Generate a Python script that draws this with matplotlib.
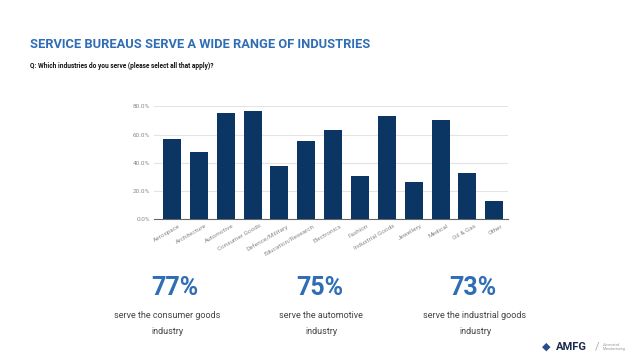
import matplotlib.pyplot as plt

industries = ["Aerospace", "Architecture", "Automotive", "Consumer Goods",
              "Defence/Military", "Education/Research", "Electronics", "Fashion",
              "Industrial Goods", "Jewellery", "Medical", "Oil & Gas", "Other"]
share = [57, 48, 75, 77, 38, 55.5, 63, 30.5, 73, 26.6, 70.5, 32.6, 13.2]

stats = ["77%", "75%", "73%"]
stat_text = ["serve the consumer goods\nindustry",
             "serve the automotive\nindustry",
             "serve the industrial goods\nindustry"]

blue = "#2f6db5"
navy = "#0b3563"

plt.rcParams['font.family'] = ['Roboto', 'DejaVu Sans']

fig = plt.figure(figsize=(6.38, 3.59), dpi=100)
W, H = 638, 359

fig.text(30 / W, 1 - 44 / H, "SERVICE BUREAUS SERVE A WIDE RANGE OF INDUSTRIES",
         color=blue, fontsize=9.3, fontweight='bold', va='center', ha='left')
fig.text(30 / W, 1 - 66 / H, "Q: Which industries do you serve (please select all that apply)?",
         color='#111111', fontsize=4.7, fontweight='bold', va='center', ha='left')

ax = fig.add_axes([154 / W, 1 - 219.3 / H, (508 - 154) / W, (219.3 - 106.3) / H])
x = range(len(industries))
ax.bar(x, share, width=0.67, color=navy, zorder=3)
ax.set_xlim(-0.67, 12.51)
ax.set_ylim(0, 80)
ax.set_yticks([0, 20, 40, 60, 80])
ax.set_yticklabels(["0.0%", "20.0%", "40.0%", "60.0%", "80.0%"])
ax.set_xticks([i + 0.25 for i in x])
ax.set_xticklabels(industries, rotation=30, ha='right', rotation_mode='anchor')
ax.tick_params(axis='both', length=0, labelsize=4.6, colors='#8a8a8a', pad=3)
ax.grid(axis='y', color='#e4e4e4', linewidth=0.8, zorder=0)
ax.grid(axis='x', visible=False)
for s in ['top', 'right', 'left']:
    ax.spines[s].set_visible(False)
ax.spines['bottom'].set_color('#666666')
ax.spines['bottom'].set_linewidth(0.8)

stat_x = [175, 320, 473]
text_x = [167, 321, 475]
for sx, tx, big, small in zip(stat_x, text_x, stats, stat_text):
    fig.text(sx / W, 1 - 288 / H, big, color=blue, fontsize=18, fontweight='bold',
             ha='center', va='center')
    fig.text(tx / W, 1 - 324 / H, small, color='#444444', fontsize=6.5,
             ha='center', va='center', linespacing=2.0)

fig.text(556 / W, 1 - 347 / H, "AMFG", color='#1d2b4a', fontsize=8, fontweight='bold',
         ha='left', va='center')
fig.text(546 / W, 1 - 347 / H, "\u25c6", color='#2a4d8a', fontsize=8,
         ha='center', va='center')
fig.text(597 / W, 1 - 347 / H, "/", color='#aaaaaa', fontsize=8, ha='center', va='center')
fig.text(603 / W, 1 - 347 / H, "Automated\nManufacturing", color='#999999', fontsize=2.5,
         ha='left', va='center')

fig.savefig("out.png", dpi=100, facecolor='white')
